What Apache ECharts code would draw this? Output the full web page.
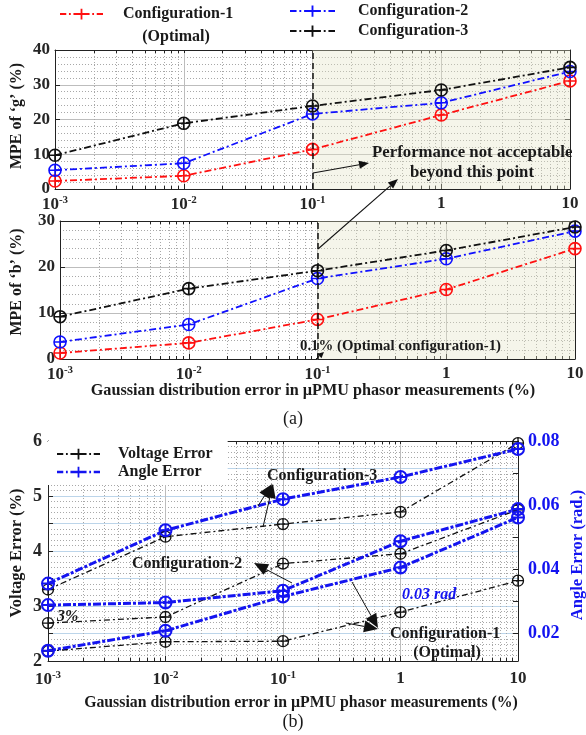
<!DOCTYPE html>
<html><head><meta charset="utf-8">
<script src="https://cdn.jsdelivr.net/npm/echarts@6/dist/echarts.min.js"></script>
<style>html,body{margin:0;padding:0;background:#fff}#c{width:586px;height:735px}</style>
</head><body><div id="c"></div>
<script>
// ---------- data ----------
const xPct = [0.001, 0.01, 0.1, 1, 10];
const xTickBase = ['10', '10', '10', '1', '10'];
const xTickExp = ['-3', '-2', '-1', '', ''];
// (a) MPE of 'g' (%)
const g_cfg1 = [2.3, 3.8, 11.4, 21.3, 31.1];
const g_cfg2 = [5.4, 7.4, 21.6, 24.8, 33.8];
const g_cfg3 = [9.7, 18.9, 23.9, 28.5, 35.0];
// (a) MPE of 'b' (%)
const b_cfg1 = [1.3, 3.5, 8.6, 15.1, 24.0];
const b_cfg2 = [3.7, 7.5, 17.5, 21.8, 27.8];
const b_cfg3 = [9.2, 15.3, 19.2, 23.6, 28.7];
// (b) Voltage error (%)
const v_cfg1 = [2.18, 2.35, 2.36, 2.89, 3.46];
const v_cfg2 = [2.69, 2.80, 3.77, 3.95, 4.75];
const v_cfg3 = [3.30, 4.26, 4.49, 4.71, 5.96];
// (b) Angle error (rad.)
const a_cfg1 = [0.0147, 0.0209, 0.0316, 0.0406, 0.0562];
const a_cfg2 = [0.0289, 0.0297, 0.0334, 0.0488, 0.0588];
const a_cfg3 = [0.0356, 0.0522, 0.0619, 0.0688, 0.0775];
const angleLabels = [0.02, 0.04, 0.06, 0.08];
const angleTicks = [0.02, 0.03, 0.04, 0.05, 0.06, 0.07, 0.08];

// ---------- helpers ----------
const SERIF = "'Liberation Serif','Times New Roman',serif";
const lx = xPct.map(v => Math.log10(v));
const pts = arr => arr.map((v, i) => [lx[i], v]);
const minorLog = [];
for (let d = -3; d <= 0; d++) for (let k = 2; k <= 9; k++) minorLog.push(Math.log10(k * Math.pow(10, d)));
const allLog = minorLog.concat(lx);
const SYM = 'path://M10,0A10,10,0,1,1,10,20A10,10,0,1,1,10,0ZM0,10L20,10M10,0L10,20';
const ICON = 'path://M0,5h7v2h-7zM10,5h2v2h-2zM15,5h18v2h-18zM23,0h2v12h-2zM36,5h2v2h-2zM41,5h7v2h-7z';
const ICON_THICK = 'path://M0,4.5h7v3h-7zM10,4.5h2v3h-2zM15,4.5h18v3h-18zM23,0h2v12h-2zM36,4.5h2v3h-2zM41,4.5h7v3h-7z';

const xRich = {
  b: {fontFamily: SERIF, fontSize: 17, fontWeight: 'bold', color: '#262626'},
  s: {fontFamily: SERIF, fontSize: 11, fontWeight: 'bold', color: '#262626', padding: [0, 0, 9, 0]}
};
function xFmt(v) {
  const i = Math.round(v) + 3;
  const b = xTickBase[i], e = xTickExp[i];
  return e ? '{b|' + b + '}{s|' + e + '}' : '{b|' + b + '}';
}
const AX = '#222';
function xAxesFor(gi, margin) {
  return [
    {gridIndex: gi, type: 'value', position: 'bottom', min: -3, max: 1, interval: 1,
      axisLine: {onZero: false, lineStyle: {color: AX}},
      axisTick: {inside: true, length: 5, lineStyle: {color: AX}},
      axisLabel: {margin: margin, formatter: xFmt, rich: xRich},
      splitLine: {show: true, lineStyle: {color: '#bdbdbd', width: 1}}},
    {gridIndex: gi, type: 'value', position: 'bottom', min: -3, max: 1,
      axisLine: {show: false, onZero: false},
      axisTick: {show: true, inside: true, length: 3, customValues: minorLog, lineStyle: {color: AX}},
      axisLabel: {show: false},
      splitLine: {show: true, lineStyle: {color: '#a8a8a8', type: [1, 2], width: 1}}},
    {gridIndex: gi, type: 'value', position: 'top', min: -3, max: 1,
      axisLine: {show: true, onZero: false, lineStyle: {color: AX}},
      axisTick: {show: true, inside: true, length: 3, customValues: allLog, lineStyle: {color: AX}},
      axisLabel: {show: false}, splitLine: {show: false}}
  ];
}
function yPairA(gi, max) {
  return [
    {gridIndex: gi, type: 'value', position: 'left', min: 0, max: max, interval: 10,
      axisLine: {show: true, onZero: false, lineStyle: {color: AX}},
      axisTick: {inside: true, length: 5, lineStyle: {color: AX}},
      minorTick: {show: false, splitNumber: 5},
      minorSplitLine: {show: true, lineStyle: {color: '#a8a8a8', type: [1, 2]}},
      splitLine: {show: true, lineStyle: {color: '#bdbdbd'}},
      axisLabel: {margin: 5, fontFamily: SERIF, fontSize: 17, fontWeight: 'bold', color: '#262626'}},
    {gridIndex: gi, type: 'value', position: 'right', min: 0, max: max, interval: 10,
      axisLine: {show: true, onZero: false, lineStyle: {color: AX}},
      axisTick: {inside: true, length: 5, lineStyle: {color: AX}},
      axisLabel: {show: false}, splitLine: {show: false}}
  ];
}
function ser(name, data, color, xi, yi, w, dash, size, bw, extra) {
  return Object.assign({
    type: 'line', name: name, data: pts(data), xAxisIndex: xi, yAxisIndex: yi,
    symbol: SYM, symbolSize: size, showSymbol: true,
    lineStyle: {color: color, width: w, type: dash},
    itemStyle: {color: 'rgba(0,0,0,0)', borderColor: color, borderWidth: bw},
    emphasis: {disabled: true}, animation: false
  }, extra || {});
}
const shade = {
  markArea: {silent: true, itemStyle: {color: 'rgba(226,226,198,0.36)'}, data: [[{xAxis: -1}, {xAxis: 1}]]},
  markLine: {silent: true, symbol: 'none', label: {show: false}, animation: false,
    lineStyle: {color: '#111', type: [6, 4], width: 1.5}, data: [{xAxis: -1}]}
};
function arrow(x1, y1, x2, y2, head, hw, lw) {
  const a = Math.atan2(y2 - y1, x2 - x1);
  const hx = x2 - head * Math.cos(a), hy = y2 - head * Math.sin(a);
  const px = -Math.sin(a) * hw, py = Math.cos(a) * hw;
  return [
    {type: 'line', z: 50, shape: {x1: x1, y1: y1, x2: hx, y2: hy}, style: {stroke: '#111', lineWidth: lw}},
    {type: 'polygon', z: 50, shape: {points: [[x2, y2], [hx + px, hy + py], [hx - px, hy - py]]}, style: {fill: '#111'}}
  ];
}
function txt(text, x, y, opt) {
  opt = opt || {};
  return {type: 'text', z: 60, x: x, y: y, rotation: opt.rot || 0,
    style: {text: text, fontFamily: SERIF, fontSize: opt.size || 16, fontWeight: opt.weight || 'bold',
      fontStyle: opt.italic ? 'italic' : 'normal', fill: opt.color || '#1a1a1a',
      align: opt.align || 'center', verticalAlign: 'middle'}};
}

const RED = '#ff1010', BLUE = '#1010ff', BLK = '#111111', BLUE2 = '#1414f0';
const DASH = [7, 3, 2, 3];
const legendText = {fontFamily: SERIF, fontSize: 16, fontWeight: 'bold', color: '#1a1a1a'};

const option = {
  backgroundColor: '#fff',
  animation: false,
  grid: [
    {left: 55, top: 50, width: 515, height: 139, outerBoundsMode: 'none', containLabel: false},
    {left: 60, top: 221, width: 515, height: 138, outerBoundsMode: 'none', containLabel: false},
    {left: 48, top: 441, width: 470, height: 220, outerBoundsMode: 'none', containLabel: false}
  ],
  legend: [
    {left: 60, top: 6, padding: 0, selectedMode: false, itemWidth: 43, itemHeight: 12,
      textStyle: Object.assign({padding: [0, 0, 0, 15]}, legendText),
      data: [{name: 'Configuration-1', icon: ICON, itemStyle: {color: RED, borderWidth: 0}}]},
    {left: 290, top: 3, padding: 0, orient: 'vertical', itemGap: 4, selectedMode: false, itemWidth: 45, itemHeight: 12,
      textStyle: Object.assign({padding: [0, 0, 0, 18]}, legendText),
      data: [{name: 'Configuration-2', icon: ICON, itemStyle: {color: BLUE, borderWidth: 0}},
             {name: 'Configuration-3', icon: ICON, itemStyle: {color: BLK, borderWidth: 0}}]},
    {left: 48, top: 441, padding: [5, 15, 5, 9], orient: 'vertical', itemGap: 2, selectedMode: false,
      backgroundColor: '#fff', itemWidth: 43, itemHeight: 12,
      textStyle: Object.assign({padding: [0, 0, 0, 13]}, legendText),
      data: [{name: 'Voltage Error', icon: ICON, itemStyle: {color: BLK, borderWidth: 0}},
             {name: 'Angle Error', icon: ICON_THICK, itemStyle: {color: BLUE2, borderWidth: 0}}]}
  ],
  xAxis: [].concat(xAxesFor(0, 6), xAxesFor(1, 6), xAxesFor(2, 9)),
  yAxis: [].concat(yPairA(0, 40), yPairA(1, 30), [
    {gridIndex: 2, type: 'value', position: 'left', min: 2, max: 6, interval: 0.5,
      axisLine: {show: true, onZero: false, lineStyle: {color: AX}},
      axisTick: {inside: true, length: 5, lineStyle: {color: AX}},
      minorTick: {show: false, splitNumber: 5},
      minorSplitLine: {show: true, lineStyle: {color: '#a8a8a8', type: [1, 2]}},
      splitLine: {show: true, lineStyle: {color: '#bcd5ea', width: 1.2}},
      axisLabel: {margin: 6, fontFamily: SERIF, fontSize: 18, fontWeight: 'bold', color: '#262626',
        formatter: v => (Math.abs(v - Math.round(v)) < 1e-6 ? String(Math.round(v)) : '')}},
    {gridIndex: 2, type: 'value', position: 'right', min: 0.0115, max: 0.08,
      axisLine: {show: true, onZero: false, lineStyle: {color: AX}},
      axisTick: {inside: true, length: 5, customValues: angleTicks, lineStyle: {color: AX}},
      axisLabel: {margin: 10, customValues: angleLabels, fontFamily: SERIF, fontSize: 18, fontWeight: 'bold', color: '#1414f0',
        formatter: v => v.toFixed(2)},
      splitLine: {show: false}}
  ]),
  series: [
    ser('Configuration-1', g_cfg1, RED, 0, 0, 1.8, DASH, 12, 1.6, shade),
    ser('Configuration-2', g_cfg2, BLUE, 0, 0, 1.8, DASH, 12, 1.6),
    ser('Configuration-3', g_cfg3, BLK, 0, 0, 1.8, DASH, 12, 1.6),
    ser('Configuration-1', b_cfg1, RED, 3, 2, 1.8, DASH, 12, 1.6, shade),
    ser('Configuration-2', b_cfg2, BLUE, 3, 2, 1.8, DASH, 12, 1.6),
    ser('Configuration-3', b_cfg3, BLK, 3, 2, 1.8, DASH, 12, 1.6),
    ser('Voltage Error', v_cfg1, BLK, 6, 4, 1.3, [6, 3, 2, 3], 11, 1.3),
    ser('Voltage Error', v_cfg2, BLK, 6, 4, 1.3, [6, 3, 2, 3], 11, 1.3),
    ser('Voltage Error', v_cfg3, BLK, 6, 4, 1.3, [6, 3, 2, 3], 11, 1.3),
    ser('Angle Error', a_cfg1, BLUE2, 6, 5, 3, [8, 2, 3, 2], 12, 2),
    ser('Angle Error', a_cfg2, BLUE2, 6, 5, 3, [8, 2, 3, 2], 12, 2),
    ser('Angle Error', a_cfg3, BLUE2, 6, 5, 3, [8, 2, 3, 2], 12, 2)
  ],
  graphic: [].concat(
    [txt('(Optimal)', 176, 37)],
    [txt('MPE of \u2018g\u2019 (%)', 17, 116, {rot: Math.PI / 2, size: 16})],
    [txt('MPE of \u2018b\u2019 (%)', 17, 282, {rot: Math.PI / 2, size: 16})],
    [txt('Gaussian distribution error in \u00b5PMU phasor measurements (%)', 313, 391, {size: 16.2})],
    [txt('(a)', 293, 419, {size: 18, weight: 'normal'})],
    [txt('Performance not acceptable', 372, 153, {align: 'left', size: 16.8})],
    [txt('beyond this point', 472, 173, {size: 16.8})],
    arrow(313, 173, 369, 163, 10, 4, 1.1),
    arrow(318, 249, 398, 179, 10, 4, 1.1),
    [txt('0.1% (Optimal configuration-1)', 300, 346, {align: 'left', size: 14.8})],
    arrow(316, 359, 324, 352, 6, 3, 1),
    // chart (b)
    [txt('Voltage Error (%)', 17, 553, {rot: Math.PI / 2, size: 16.5})],
    [txt('Angle Error (rad.)', 578, 555, {rot: Math.PI / 2, size: 16.5, color: '#1414f0'})],
    [txt('Gaussian distribution error in \u00b5PMU phasor measurements (%)', 301, 703, {size: 15.8})],
    [txt('(b)', 293, 722, {size: 18, weight: 'normal'})],
    [txt('Configuration-3', 267, 476, {align: 'left'})],
    arrow(263, 527, 273, 484, 14, 6, 1),
    arrow(258, 506, 272, 484, 14, 6, 1),
    [txt('Configuration-2', 132, 564, {align: 'left'})],
    arrow(292, 583, 254, 563, 14, 6, 1),
    [txt('Configuration-1', 390, 634, {align: 'left'})],
    [txt('(Optimal)', 447, 653)],
    arrow(352, 582, 378, 628, 14, 6, 1),
    arrow(346, 623, 378, 629, 14, 6, 1),
    [txt('3%', 57, 617, {align: 'left', italic: true, size: 16})],
    [txt('0.03 rad', 402, 595, {align: 'left', italic: true, size: 16, color: '#1414f0'})]
  )
};
const chart = echarts.init(document.getElementById('c'), null, {renderer: 'canvas'});
chart.setOption(option);
</script>
</body></html>
